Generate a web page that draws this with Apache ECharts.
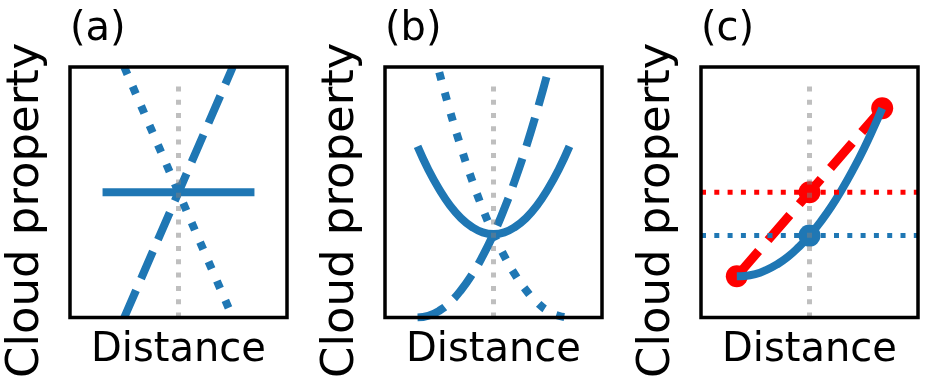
<!DOCTYPE html>
<html>
<head>
<meta charset="utf-8">
<script src="https://cdn.jsdelivr.net/npm/echarts@6/dist/echarts.min.js"></script>
<style>html,body{margin:0;padding:0;background:#fff}#chart{width:933px;height:380px}</style>
</head>
<body>
<div id="chart"></div>
<script>
// ---- data (normalised axis units, 0..1) ----
const panelTitles = ['(a)', '(b)', '(c)'];
const xName = 'Distance';
const yName = 'Cloud property';

const guideLine = [[0.5, 0], [0.5, 0.955]];

const aSolid = [[0.15, 0.5], [0.85, 0.5]];
const aDashed = [[0.25, 0], [0.75, 1]];
const aDotted = [[0.25, 1], [0.75, 0]];

const bSolid = [[0.15, 0.683], [0.2, 0.59], [0.25, 0.512], [0.3, 0.447], [0.35, 0.397], [0.4, 0.362], [0.45, 0.34], [0.5, 0.333], [0.55, 0.34], [0.6, 0.362], [0.65, 0.397], [0.7, 0.447], [0.75, 0.512], [0.8, 0.59], [0.85, 0.683]];
const bDashed = [[0.15, 0], [0.2, 0.007], [0.25, 0.027], [0.3, 0.061], [0.35, 0.109], [0.4, 0.17], [0.45, 0.245], [0.5, 0.333], [0.55, 0.435], [0.6, 0.551], [0.65, 0.68], [0.7, 0.823], [0.75, 0.979]];
const bDotted = [[0.25, 0.979], [0.3, 0.823], [0.35, 0.68], [0.4, 0.551], [0.45, 0.435], [0.5, 0.333], [0.55, 0.245], [0.6, 0.17], [0.65, 0.109], [0.7, 0.061], [0.75, 0.027], [0.8, 0.007], [0.85, 0]];

const cRed = [[0.165, 0.165], [0.5, 0.5], [0.835, 0.835]];
const cBlue = [[0.165, 0.165], [0.2, 0.166], [0.25, 0.173], [0.3, 0.189], [0.35, 0.212], [0.4, 0.242], [0.45, 0.281], [0.5, 0.327], [0.55, 0.381], [0.6, 0.442], [0.65, 0.512], [0.7, 0.589], [0.75, 0.673], [0.8, 0.766], [0.835, 0.835]];
const cBlueMarker = [[0.5, 0.327]];
const cBlueLevel = [[0, 0.327], [1, 0.327]];
const cRedLevel = [[0, 0.5], [1, 0.5]];

// ---- styling ----
const BLUE = '#1f77b4';
const RED = '#ff0000';
const GUIDE = 'rgba(128,128,128,0.5)';
const FONT = 'DejaVu Sans';
const LW = 8;
const DOT = [LW, LW * 1.65];
const DASH = [LW * 3.7, LW * 1.6];
const RED_LW = 9;
const RED_DASH = [RED_LW * 3.7, RED_LW * 1.6];
const thinDot = [5, 8.3];

const gridLefts = [70, 385, 701];
const grids = gridLefts.map(l => ({
  left: l, top: 67, width: 217, height: 252,
  show: true, borderColor: '#000', borderWidth: 3.5, backgroundColor: 'transparent', z: 10
}));

const xAxes = gridLefts.map((l, i) => ({
  type: 'value', gridIndex: i, min: 0, max: 1,
  axisLine: { show: false }, axisTick: { show: false }, axisLabel: { show: false }, splitLine: { show: false },
  name: xName, nameLocation: 'middle', nameGap: 13,
  nameTextStyle: { fontFamily: FONT, fontSize: 40, color: '#000' }
}));
const yAxes = gridLefts.map((l, i) => ({
  type: 'value', gridIndex: i, min: 0, max: 1,
  axisLine: { show: false }, axisTick: { show: false }, axisLabel: { show: false }, splitLine: { show: false },
  name: yName, nameLocation: 'middle', nameGap: 21,
  nameTextStyle: { fontFamily: FONT, fontSize: 45, color: '#000', padding: [0, 36, 0, 0] }
}));

function line(i, data, color, width, type, extra) {
  return Object.assign({
    type: 'line', xAxisIndex: i, yAxisIndex: i, data: data,
    showSymbol: false, symbol: 'none', silent: true, animation: false, clip: true,
    lineStyle: { color: color, width: width, type: type, cap: 'butt', join: 'round' }
  }, extra || {});
}

const series = [
  // (a)
  line(0, aSolid, BLUE, LW, 'solid', { z: 2 }),
  line(0, aDashed, BLUE, LW, DASH, { z: 2 }),
  line(0, aDotted, BLUE, LW, DOT, { z: 2 }),
  line(0, guideLine, GUIDE, 5, thinDot, { z: 5 }),
  // (b)
  line(1, bSolid, BLUE, LW, 'solid', { smooth: true, z: 2 }),
  line(1, bDashed, BLUE, LW, DASH, { smooth: true, z: 2 }),
  line(1, bDotted, BLUE, LW, DOT, { smooth: true, z: 2 }),
  line(1, guideLine, GUIDE, 5, thinDot, { z: 5 }),
  // (c)
  line(2, cRed, RED, RED_LW, RED_DASH, {
    z: 2, showSymbol: true, symbol: 'circle', symbolSize: 22,
    itemStyle: { color: RED, borderWidth: 0 }
  }),
  line(2, cBlue, BLUE, LW, 'solid', { smooth: true, z: 3 }),
  {
    type: 'scatter', xAxisIndex: 2, yAxisIndex: 2, data: cBlueMarker, symbolSize: 22,
    itemStyle: { color: BLUE, opacity: 1 }, silent: true, animation: false, z: 3
  },
  line(2, cRedLevel, RED, 5, thinDot, { z: 4 }),
  line(2, cBlueLevel, BLUE, 5, thinDot, { z: 4 }),
  line(2, guideLine, GUIDE, 5, thinDot, { z: 5 })
];

const titles = panelTitles.map((t, i) => ({
  text: t, left: gridLefts[i], top: 10, padding: 0,
  textStyle: { fontFamily: FONT, fontSize: 40, fontWeight: 'normal', color: '#000' }
}));

const chart = echarts.init(document.getElementById('chart'), null, { renderer: 'canvas' });
chart.setOption({
  animation: false,
  backgroundColor: '#fff',
  title: titles,
  grid: grids,
  xAxis: xAxes,
  yAxis: yAxes,
  series: series
});
</script>
</body>
</html>
